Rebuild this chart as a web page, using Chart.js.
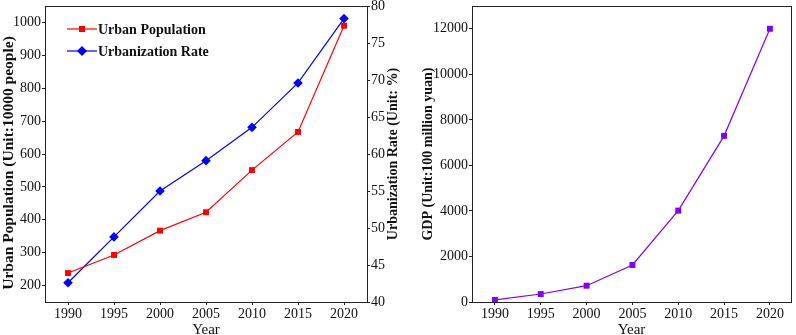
<!DOCTYPE html>
<html><head><meta charset="utf-8">
<script src="https://cdn.jsdelivr.net/npm/chart.js@4.4.1/dist/chart.umd.min.js"></script>
<style>
html,body{margin:0;padding:0;background:#fff;width:796px;height:335px;overflow:hidden;}
#c1{position:absolute;left:0;top:0;}
#c2{position:absolute;left:400px;top:0;}
</style></head>
<body>
<canvas id="c1" width="400" height="335"></canvas>
<canvas id="c2" width="396" height="335"></canvas>
<script>
const years = [1990, 1995, 2000, 2005, 2010, 2015, 2020];
const urbanPopulation = [238, 293, 367, 423, 551, 667, 990];
const urbanizationRate = [42.6, 48.8, 55.0, 59.1, 63.6, 69.6, 78.3];
const gdp = [90, 350, 716, 1626, 4013, 7297, 12000];
const popTicks = [200, 300, 400, 500, 600, 700, 800, 900, 1000];
const rateTicks = [40, 45, 50, 55, 60, 65, 70, 75, 80];
const gdpTicks = [0, 2000, 4000, 6000, 8000, 10000, 12000];

const FONT = "'Liberation Serif', 'Times New Roman', serif";
const AX = '#222';
Chart.defaults.font.family = FONT;
Chart.defaults.color = '#111';

function pts(xs, ys){ return xs.map((x,i)=>({x:x, y:ys[i]})); }
function fixTicks(arr){ return s => { s.ticks = arr.map(v=>({value:v})); }; }
function fitW(w){ return s => { s.width = w; s.paddingTop = 0; s.paddingBottom = 0; }; }
function fitH(h){ return s => { s.height = h; s.paddingLeft = 0; s.paddingRight = 0; }; }
const plain = v => String(v);

const boxPlugin = {
  id:'box',
  afterDatasetsDraw(chart){
    const {ctx, chartArea:a} = chart;
    ctx.save();
    ctx.strokeStyle = AX; ctx.lineWidth = 1;
    ctx.strokeRect(Math.round(a.left)+0.5, Math.round(a.top)+0.5, Math.round(a.right-a.left), Math.round(a.bottom-a.top));
    ctx.restore();
  }
};

const legendPlugin = {
  id:'inlegend',
  afterDraw(chart){
    const {ctx} = chart;
    ctx.save();
    chart.data.datasets.forEach((ds,i)=>{
      const y = 29 + i*22;
      ctx.strokeStyle = ds.borderColor; ctx.lineWidth = 1.2;
      ctx.beginPath(); ctx.moveTo(67,y); ctx.lineTo(97,y); ctx.stroke();
      Chart.helpers.drawPoint(ctx, {pointStyle: ds.pointStyle, radius: ds.pointRadius, borderWidth: 0}, 82, y);
      ctx.fillStyle = ds.backgroundColor;
      ctx.fill();
      ctx.fillStyle = '#111';
      ctx.font = "bold 14px " + FONT;
      ctx.textBaseline = 'middle'; ctx.textAlign = 'left';
      ctx.fillText(ds.label, 98, y+1);
    });
    ctx.restore();
  }
};

function vTitle(ctx, text, x, y, size){
  ctx.save();
  ctx.translate(x, y);
  ctx.rotate(-Math.PI/2);
  ctx.font = "bold " + size + "px " + FONT;
  ctx.fillStyle = '#111';
  ctx.textAlign = 'center'; ctx.textBaseline = 'middle';
  ctx.fillText(text, 0, 0);
  ctx.restore();
}

const titlesPlugin = {
  id:'vtitles',
  afterDraw(chart){
    const {ctx} = chart;
    vTitle(ctx, 'Urban Population (Unit:10000 people)', 9, 163, 15.5);
    vTitle(ctx, 'Urbanization Rate (Unit: %)', 393, 154, 14);
  }
};

const gridOpts = {drawOnChartArea:false, drawTicks:true, tickLength:3, color:AX};
const tickFont = {size:14, family:FONT};

new Chart(document.getElementById('c1'), {
  type:'line',
  data:{datasets:[
    {label:'Urban Population', data:pts(years, urbanPopulation), yAxisID:'y',
     borderColor:'#ff0000', backgroundColor:'#ff0000', borderWidth:1.2,
     pointStyle:'rect', pointRadius:4.2, pointBorderWidth:0, tension:0},
    {label:'Urbanization Rate', data:pts(years, urbanizationRate), yAxisID:'y2',
     borderColor:'#0000ff', backgroundColor:'#0000ff', borderWidth:1.2,
     pointStyle:'rectRot', pointRadius:4.8, pointBorderWidth:0, tension:0}
  ]},
  options:{
    responsive:false, animation:false,
    layout:{padding:{top:6, left:0, right:0, bottom:0}},
    plugins:{legend:{display:false}, tooltip:{enabled:false}},
    scales:{
      x:{type:'linear', min:1987.5, max:2022.5, afterBuildTicks:fixTicks(years), afterFit:fitH(33),
         grid:gridOpts, border:{display:false},
         ticks:{font:tickFont, padding:1, color:'#111', maxRotation:0, callback:plain},
         title:{display:true, text:'Year', font:{size:15, family:FONT}, padding:{top:0,bottom:-4}, color:'#111'}},
      y:{position:'left', min:150, max:1050, afterBuildTicks:fixTicks(popTicks), afterFit:fitW(45),
         grid:gridOpts, border:{display:false},
         ticks:{font:tickFont, padding:1, color:'#111', callback:plain}},
      y2:{position:'right', min:40, max:80, afterBuildTicks:fixTicks(rateTicks), afterFit:fitW(33),
         grid:gridOpts, border:{display:false},
         ticks:{font:tickFont, padding:1, color:'#111', callback:plain}}
    }
  },
  plugins:[boxPlugin, legendPlugin, titlesPlugin]
});

new Chart(document.getElementById('c2'), {
  type:'line',
  data:{datasets:[
    {label:'GDP', data:pts(years, gdp),
     borderColor:'#8000ff', backgroundColor:'#8000ff', borderWidth:1.2,
     pointStyle:'rect', pointRadius:4.2, pointBorderWidth:0, tension:0}
  ]},
  options:{
    responsive:false, animation:false,
    layout:{padding:{top:6, left:0, right:5, bottom:0}},
    plugins:{legend:{display:false}, tooltip:{enabled:false}},
    scales:{
      x:{type:'linear', min:1987.5, max:2022.3, afterBuildTicks:fixTicks(years), afterFit:fitH(33),
         grid:gridOpts, border:{display:false},
         ticks:{font:tickFont, padding:1, color:'#111', maxRotation:0, callback:plain},
         title:{display:true, text:'Year', font:{size:15, family:FONT}, padding:{top:0,bottom:-4}, color:'#111'}},
      y:{position:'left', min:0, max:13000, afterBuildTicks:fixTicks(gdpTicks), afterFit:fitW(72),
         grid:gridOpts, border:{display:false},
         ticks:{font:tickFont, padding:1, color:'#111', callback:plain},
         title:{display:true, text:'GDP (Unit:100 million yuan)', font:{size:14, weight:'bold', family:FONT}, padding:{top:20,bottom:0}, color:'#111'}}
    }
  },
  plugins:[boxPlugin]
});
</script>
</body></html>
